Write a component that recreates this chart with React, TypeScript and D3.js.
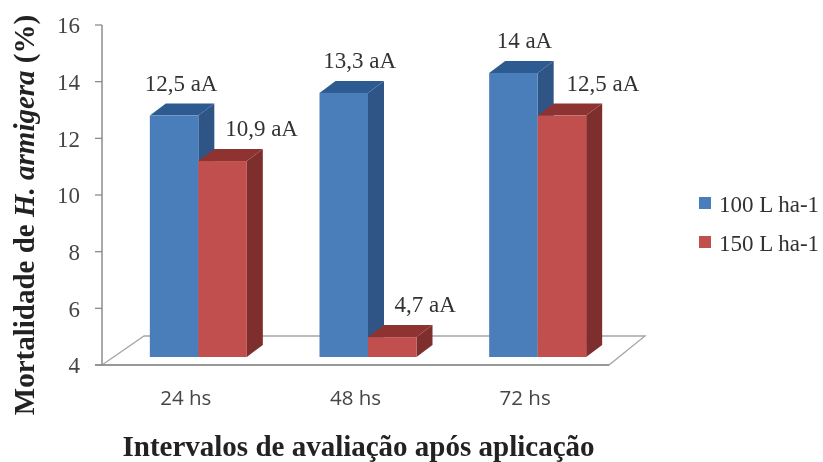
import React from "react";
import * as d3 from "d3";

const categories = ["24 hs", "48 hs", "72 hs"];
const seriesNames = ["100 L ha-1", "150 L ha-1"];
const values100 = [12.5, 13.3, 14];
const values150 = [10.9, 4.7, 12.5];
const labels100 = ["12,5 aA", "13,3 aA", "14 aA"];
const labels150 = ["10,9 aA", "4,7 aA", "12,5 aA"];
const yTicks = [4, 6, 8, 10, 12, 14, 16];

// hand-dragged label nudges, as in the reference (layout only)
const labelNudge100 = [7, 16, 11];
const labelNudge150 = [39, 33, 41];

const W = 823, H = 462;
const DX = 16, DY = 12;
const SERIF = "'Liberation Serif', 'Times New Roman', serif";
const SANS = "'Open Sans', 'Noto Sans', sans-serif";
const AXIS = "#8c8c8c";
const TEXT = "#333";

const colors = [
  { front: "#4a7ebb", side: "#2d5486", top: "#2f5a92" },
  { front: "#c0504d", side: "#7f2f2d", top: "#8e3331" },
];

export default function App() {
  const axisY = d3.scaleLinear().domain([4, 16]).range([365, 25]);
  const barY = d3.scaleLinear().domain([4, 16]).range([357, 16.2]);
  const x0 = d3.scaleBand<string>().domain(categories).range([113.5, 622.5]);
  const x1 = d3.scaleBand<string>().domain(seriesNames).range([0, 97]);
  const groupLeft = (c: string) => x0(c)! + (x0.bandwidth() - 97) / 2;

  const bars = categories.flatMap((c, i) =>
    seriesNames.map((s, si) => ({
      c, s, si,
      v: (si === 0 ? values100 : values150)[i],
      label: (si === 0 ? labels100 : labels150)[i],
      nudge: (si === 0 ? labelNudge100 : labelNudge150)[i],
    }))
  );

  const bw = x1.bandwidth();
  const base = barY(4);

  return (
    <svg width={W} height={H} viewBox={`0 0 ${W} ${H}`}
      style={{ position: "absolute", left: 0, top: 0, background: "#fff" }}>
      <defs>
        <filter id="soft" x="-5%" y="-5%" width="110%" height="110%">
          <feGaussianBlur stdDeviation="0.55" />
        </filter>
      </defs>
      <g filter="url(#soft)">
        {/* floor */}
        <path d={`M102,${axisY(4)} L${102 + 42},${axisY(4) - 29} H645 L609,${axisY(4)} Z`}
          fill="#fff" stroke="#a6a6a6" strokeWidth={1.3} />
        {/* value axis */}
        <line x1={102} x2={102} y1={axisY(16)} y2={axisY(4)} stroke={AXIS} strokeWidth={1.5} />
        {yTicks.map((t) => (
          <g key={t}>
            <line x1={95} x2={102} y1={axisY(t)} y2={axisY(t)} stroke={AXIS} strokeWidth={1.3} />
            <text x={80} y={axisY(t) + 3} textAnchor="end" dominantBaseline="middle"
              fontFamily={SERIF} fontSize={23} fill="#444">{t}</text>
          </g>
        ))}
        <line x1={95} x2={609} y1={axisY(4)} y2={axisY(4)} stroke={AXIS} strokeWidth={1.5} />

        {/* bars */}
        {bars.map((b) => {
          const x = groupLeft(b.c) + x1(b.s)!;
          const y = barY(b.v);
          const col = colors[b.si];
          return (
            <g key={b.c + b.s}>
              <path d={`M${x + bw},${y} l${DX},${-DY} V${base - DY} l${-DX},${DY} Z`} fill={col.side} />
              <path d={`M${x},${y} l${DX},${-DY} h${bw} l${-DX},${DY} Z`} fill={col.top} />
              <rect x={x} y={y} width={bw} height={base - y} fill={col.front} />
            </g>
          );
        })}

        {/* data labels */}
        {bars.map((b) => {
          const x = groupLeft(b.c) + x1(b.s)! + bw / 2 + b.nudge;
          return (
            <text key={b.label + b.c} x={x} y={barY(b.v) - 25}
              textAnchor="middle" fontFamily={SERIF} fontSize={23} fill={TEXT}>{b.label}</text>
          );
        })}

        {/* category labels */}
        {categories.map((c) => (
          <text key={c} x={groupLeft(c) + 36} y={405} textAnchor="middle"
            fontFamily={SANS} fontSize={20.5} fill="#444">{c}</text>
        ))}

        {/* axis titles */}
        <text transform="translate(34,215) rotate(-90)" textAnchor="middle"
          fontFamily={SERIF} fontSize={29} fontWeight="bold" fill="#222">
          Mortalidade de <tspan fontStyle="italic">H. armigera</tspan> (%)
        </text>
        <text x={358.5} y={456} textAnchor="middle" fontFamily={SERIF} fontSize={29}
          fontWeight="bold" fill="#222">Intervalos de avaliação após aplicação</text>

        {/* legend */}
        {seriesNames.map((s, i) => (
          <g key={s}>
            <rect x={699} y={[197, 236][i]} width={12} height={12} fill={colors[i].front} />
            <text x={719} y={[212, 251][i]} fontFamily={SERIF} fontSize={23} fill={TEXT}>{s}</text>
          </g>
        ))}
      </g>
    </svg>
  );
}
